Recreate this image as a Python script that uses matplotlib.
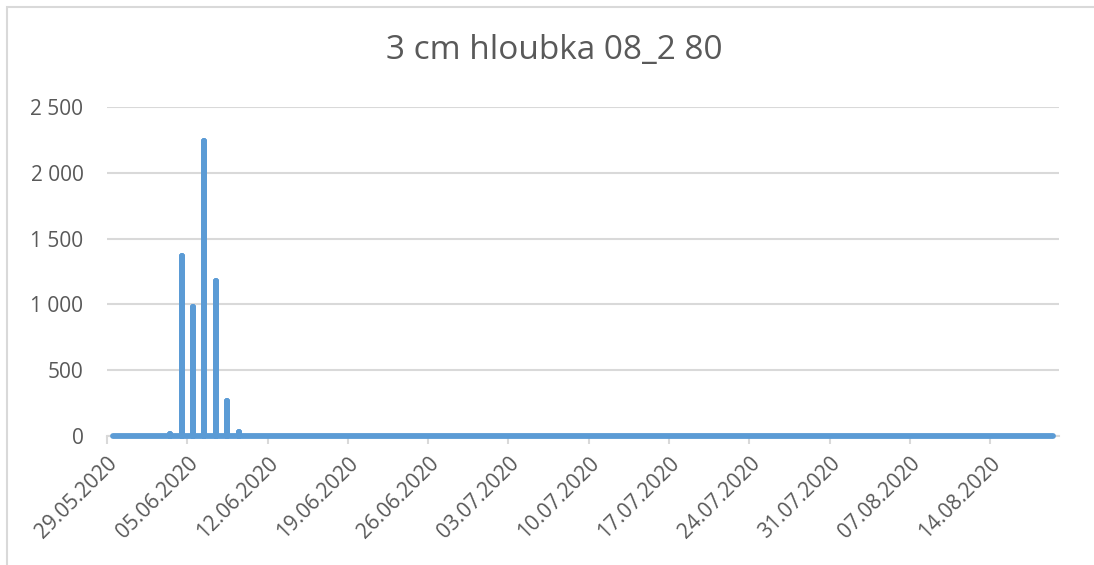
import datetime as dt

import matplotlib.pyplot as plt
import matplotlib.dates as mdates
import numpy as np
from matplotlib.patches import Rectangle

plt.rcParams['font.family'] = ['Open Sans', 'DejaVu Sans']

title = "3 cm hloubka 08_2 80"

# daily peak readings, 29.05.2020 - 19.08.2020
start_date = dt.date(2020, 5, 29)
n_days = 83
peak_days = ["03.06.2020", "04.06.2020", "05.06.2020", "06.06.2020",
             "07.06.2020", "08.06.2020", "09.06.2020"]
peak_values = [12, 1370, 980, 2245, 1175, 268, 32]

y_ticks = [0, 500, 1000, 1500, 2000, 2500]
tick_labels_x = ["29.05.2020", "05.06.2020", "12.06.2020", "19.06.2020",
                 "26.06.2020", "03.07.2020", "10.07.2020", "17.07.2020",
                 "24.07.2020", "31.07.2020", "07.08.2020", "14.08.2020"]

days = [start_date + dt.timedelta(days=i) for i in range(n_days)]
values = np.zeros(n_days)
for d, v in zip(peak_days, peak_values):
    day = dt.datetime.strptime(d, "%d.%m.%Y").date()
    values[(day - start_date).days] = v

# several readings per day share one x position, so each day is a
# vertical stroke from zero up to that day's peak and back
xs, ys = [], []
for day, v in zip(days, values):
    x = mdates.date2num(day) + 0.5
    xs += [x, x, x]
    ys += [0, v, 0]

fig = plt.figure(figsize=(10.94, 5.65), dpi=100)
ax = fig.add_axes([107 / 1094, 1 - 436 / 565, 952 / 1094, 329 / 565])

ax.plot(xs, ys, color='#5B9BD5', lw=4.2, solid_capstyle='round',
        solid_joinstyle='round', zorder=3, clip_on=False)

ax.set_xlim(mdates.date2num(start_date), mdates.date2num(start_date) + n_days)
ax.set_ylim(0, 2500)

ax.set_yticks(y_ticks)
ax.set_yticklabels([f"{t:,}".replace(",", " ") for t in y_ticks])
ax.yaxis.grid(True, color='#D9D9D9', lw=1.5)
ax.set_axisbelow(True)

x_tick_pos = [mdates.date2num(dt.datetime.strptime(t, "%d.%m.%Y").date())
              for t in tick_labels_x]
ax.set_xticks(x_tick_pos)
ax.set_xticklabels(tick_labels_x, rotation=45, ha='right', rotation_mode='anchor')

for s in ['top', 'right', 'left']:
    ax.spines[s].set_visible(False)
ax.spines['bottom'].set_color('#D9D9D9')
ax.spines['bottom'].set_linewidth(1.5)
ax.spines['bottom'].set_zorder(1)

ax.tick_params(axis='y', length=0, pad=17, labelsize=15, labelcolor='#595959')
ax.tick_params(axis='x', length=6, width=1.5, color='#D9D9D9', pad=6,
               labelsize=15, labelcolor='#595959')

fig.text(554 / 1094, 1 - 50 / 565, title, ha='center', va='center',
         fontsize=24, color='#595959')

# chart area frame
fig.patches.append(Rectangle((6.5 / 1094, -0.1), 1.2, 1 - 7 / 565 + 0.1,
                             transform=fig.transFigure, fill=False,
                             edgecolor='#D9D9D9', lw=1.5))

fig.savefig('out.png', dpi=100)
